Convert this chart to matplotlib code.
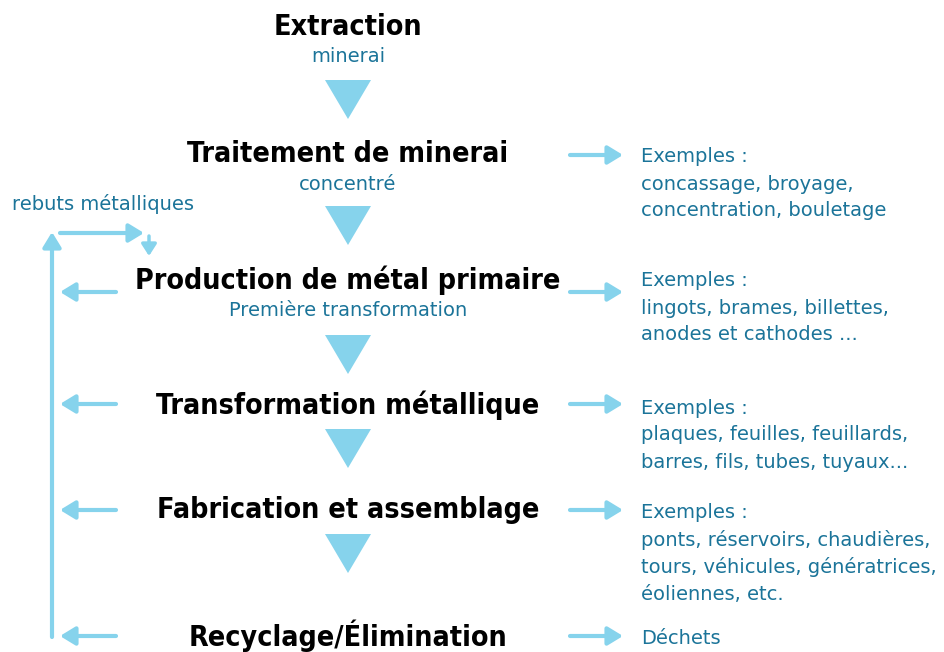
import matplotlib
matplotlib.use("Agg")
import matplotlib.pyplot as plt
from matplotlib.patches import Polygon

# contenu
etapes = ["Extraction", "Traitement de minerai", "Production de métal primaire",
          "Transformation métallique", "Fabrication et assemblage", "Recyclage/Élimination"]
sous_titres = ["minerai", "concentré", "Première transformation", "", "", ""]
exemples = [
    None,
    ["Exemples :", "concassage, broyage,", "concentration, bouletage"],
    ["Exemples :", "lingots, brames, billettes,", "anodes et cathodes ..."],
    ["Exemples :", "plaques, feuilles, feuillards,", "barres, fils, tubes, tuyaux..."],
    ["Exemples :", "ponts, réservoirs, chaudières,", "tours, véhicules, génératrices,", "éoliennes, etc."],
    ["Déchets"],
]
rebuts = "rebuts métalliques"

# mise en page (pixels)
y_etape = [27, 154, 280, 405, 510, 636]
y_fleche_d = [None, 155, 292, 404, 510, 636]
y_texte_d = [None, 157, 281, 408, 513, 638]
tri_haut = [80, 206, 335, 429, 534]
CX = 348
BLEU = "#86d3ec"
TXT = "#1b7499"

fig = plt.figure(figsize=(9.45, 6.52), dpi=100)
ax = fig.add_axes([0, 0, 1, 1])
ax.set_xlim(0, 945)
ax.set_ylim(652, 0)
ax.axis("off")

titre = dict(family="DejaVu Sans", fontstretch="condensed", weight="bold",
             fontsize=20.5, color="black", ha="center", va="center")
bleu = dict(family="DejaVu Sans", fontsize=14, color=TXT, va="center")

for i, nom in enumerate(etapes):
    ax.text(CX, y_etape[i], nom, **titre)
    if sous_titres[i]:
        ax.text(CX, y_etape[i] + 30, sous_titres[i], ha="center", **bleu)

for t in tri_haut:
    ax.add_patch(Polygon([[CX - 23, t], [CX + 23, t], [CX, t + 39]],
                         closed=True, color=BLEU, lw=0))

fl = dict(arrowstyle="-|>,head_length=0.9,head_width=0.55", color=BLEU, lw=3,
          shrinkA=0, shrinkB=0)

for i, ex in enumerate(exemples):
    if ex is None:
        continue
    ax.annotate("", xy=(623, y_fleche_d[i]), xytext=(570, y_fleche_d[i]), arrowprops=fl)
    for k, ligne in enumerate(ex):
        ax.text(641, y_texte_d[i] + 27 * k, ligne, ha="left", **bleu)
    if i >= 2:
        ax.annotate("", xy=(60, y_fleche_d[i]), xytext=(116, y_fleche_d[i]), arrowprops=fl)

# boucle de recyclage
ax.annotate("", xy=(52, 232), xytext=(52, 637), arrowprops=fl)
ax.annotate("", xy=(144, 233), xytext=(60, 233), arrowprops=fl)
fl2 = dict(fl, arrowstyle="-|>,head_length=0.7,head_width=0.45", lw=2.5)
ax.annotate("", xy=(149, 256), xytext=(149, 236), arrowprops=fl2)
ax.text(12, 204, rebuts, ha="left", **bleu)

fig.savefig("out.png", dpi=100)
